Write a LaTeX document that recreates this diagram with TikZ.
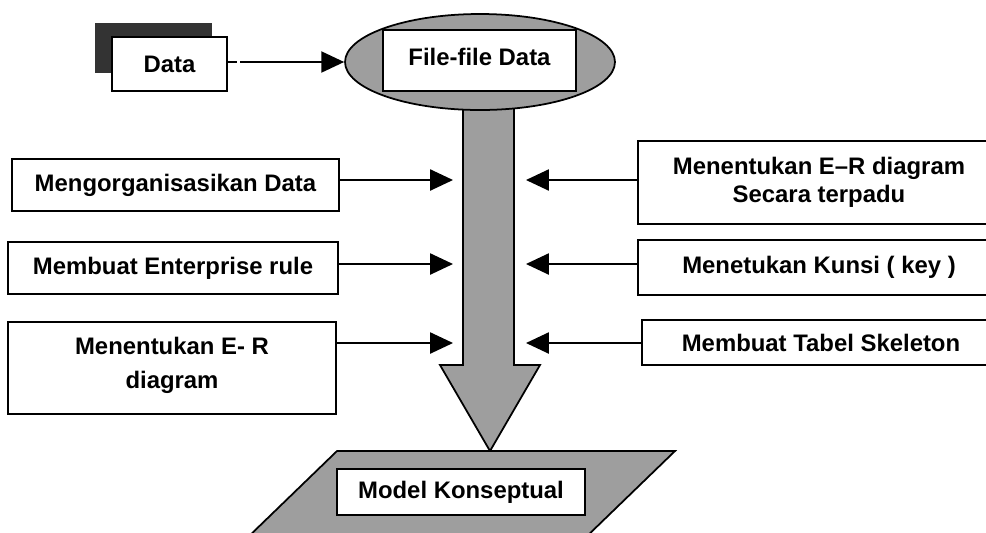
\documentclass[tikz,border=0pt]{standalone}
\usepackage{fontspec}
\setmainfont{Liberation Sans}
\usetikzlibrary{arrows.meta,shapes.geometric}
\tikzset{
	kotak/.style={draw, line width=1pt, fill=white, font=\fontsize{13.6}{16}\selectfont\bfseries, align=center, inner sep=0pt},
	isi/.style={draw, line width=1pt, fill=black!38},
	panah/.style={line width=1pt, -{Triangle[length=13pt,width=12pt]}},
}

\begin{document}
\begin{tikzpicture}[x=0.02cm, y=-0.02cm]
	\useasboundingbox (0,0) rectangle (986,532);

	% panah besar ke bawah
	\draw[isi] (463,100) -- (463,365) -- (440,365) -- (490,451) -- (540,365) -- (514,365) -- (514,100) -- cycle;

	% sumber data
	\fill[black!80] (95,23) rectangle (212,73);
	\node[kotak, minimum width=2.3cm, minimum height=1.08cm] (data) at (169.5,64) {Data};

	\node[ellipse, isi, minimum width=5.4cm, minimum height=1.92cm, inner sep=0pt] (files) at (480,62) {};
	\node[kotak, minimum width=3.86cm, minimum height=1.22cm] (filebox) at (479.5,60.5) {\raisebox{4pt}{File-file Data}};
	\draw[panah, dash pattern=on 5pt off 2pt on 100pt off 0pt] (data.east |- files.west) -- (files.west);

	% model konseptual
	\fill[black!38] (337,451) -- (675,451) -- (583,540) -- (245,540) -- cycle;
	\draw[line width=1pt] (245,540) -- (337,451) -- (675,451) -- (583,540);
	\node[kotak, minimum width=4.96cm, minimum height=0.92cm] (model) at (461,492) {Model Konseptual};

	% kotak kiri
	\node[kotak, minimum width=6.54cm, minimum height=1.04cm] (org) at (175.5,185) {Mengorganisasikan Data};
	\node[kotak, minimum width=6.6cm, minimum height=1.04cm] (rule) at (173,268) {Membuat Enterprise rule};
	\node[kotak, minimum width=6.56cm, minimum height=1.84cm] (erd) at (172,368) {\raisebox{3pt}{Menentukan E- R}\\diagram\rule[-6pt]{0pt}{1pt}};

	% kotak kanan
	\node[kotak, minimum width=7.24cm, minimum height=1.66cm] (erdall) at (819,182.5) {Menentukan E--R diagram\\Secara terpadu};
	\node[kotak, minimum width=7.24cm, minimum height=1.1cm] (key) at (819,267.5) {Menetukan Kunsi ( key )};
	\node[kotak, minimum width=7.16cm, minimum height=0.9cm] (skel) at (821,342.5) {Membuat Tabel Skeleton};

	\coordinate (inL1) at (453,180);
	\coordinate (inL2) at (453,264);
	\coordinate (inL3) at (453,343);
	\coordinate (inR1) at (526,180);
	\coordinate (inR2) at (526,264);
	\coordinate (inR3) at (526,343);

	\draw[panah] (org.east |- inL1) -- (inL1);
	\draw[panah] (rule.east |- inL2) -- (inL2);
	\draw[panah] (erd.east |- inL3) -- (inL3);
	\draw[panah] (erdall.west |- inR1) -- (inR1);
	\draw[panah] (key.west |- inR2) -- (inR2);
	\draw[panah] (skel.west |- inR3) -- (inR3);
\end{tikzpicture}
\end{document}
